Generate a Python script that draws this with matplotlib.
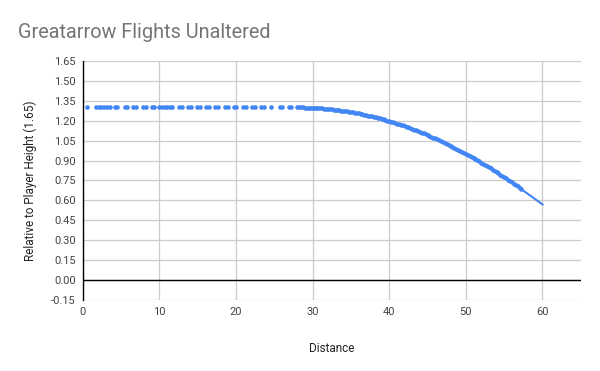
"""
Greatarrow flight path - scatter of height vs distance
"""

import numpy as np
import matplotlib.pyplot as plt

plt.rcParams['font.family'] = ['Roboto', 'DejaVu Sans']

# flat part of the flight (height stays at 1.30)
flat_x = [0.56, 1.7, 2.1, 2.4, 2.8, 3.1, 3.5, 4.2, 4.5, 5.5, 5.8, 6.6, 7.0,
          7.9, 8.2, 9.0, 9.3, 10.0, 10.4, 10.7, 11.0, 11.4, 11.7, 12.6, 12.9,
          13.7, 14.1, 14.9, 15.3, 16.1, 16.5, 17.2, 17.6, 18.5, 18.9, 19.7,
          20.0, 20.9, 21.3, 22.1, 22.5, 23.3, 23.6, 24.5, 25.7, 26.0, 26.9,
          27.2]
flat_y = [1.30] * len(flat_x)

# falling part, read at half steps
drop_x = [28.0, 28.5, 29.0, 29.5, 30.0, 30.5, 31.0, 31.5, 32.0, 32.5, 33.0,
          33.5, 34.0, 34.5, 35.0, 35.5, 36.0, 36.5, 37.0, 37.5, 38.0, 38.5,
          39.0, 39.5, 40.0, 40.5, 41.0, 41.5, 42.0, 42.5, 43.0, 43.5, 44.0,
          44.5, 45.0, 45.5, 46.0, 46.5, 47.0, 47.5, 48.0, 48.5, 49.0, 49.5,
          50.0, 50.5, 51.0, 51.5, 52.0, 52.5, 53.0, 53.5, 54.0, 54.5, 55.0,
          55.5, 56.0, 56.5, 57.0, 57.2]
drop_y = [1.300, 1.300, 1.299, 1.298, 1.297, 1.296, 1.294, 1.291, 1.288,
          1.285, 1.282, 1.278, 1.274, 1.270, 1.265, 1.260, 1.254, 1.248,
          1.242, 1.235, 1.228, 1.221, 1.213, 1.205, 1.196, 1.188, 1.178,
          1.169, 1.159, 1.149, 1.138, 1.127, 1.116, 1.104, 1.092, 1.080,
          1.067, 1.054, 1.040, 1.026, 1.012, 0.997, 0.983, 0.967, 0.952,
          0.936, 0.919, 0.902, 0.885, 0.868, 0.850, 0.832, 0.813, 0.794,
          0.775, 0.756, 0.736, 0.715, 0.695, 0.686]

# falling part, points in between
mid_x = [28.25, 28.75, 29.25, 29.75, 30.25, 30.75, 31.25, 31.75, 32.25,
         32.75, 33.25, 33.75, 34.25, 34.75, 35.25, 35.75, 36.25, 36.75,
         37.25, 37.75, 38.25, 38.75, 39.25, 39.75, 40.25, 40.75, 41.25,
         41.75, 42.25, 42.75, 43.25, 43.75, 44.25, 44.75, 45.25, 45.75,
         46.25, 46.75, 47.25, 47.75, 48.25, 48.75, 49.25, 49.75, 50.25,
         50.75, 51.25, 51.75, 52.25, 52.75, 53.25, 53.75, 54.25, 54.75,
         55.25, 55.75, 56.25, 56.75]
mid_y = [1.300, 1.300, 1.299, 1.298, 1.296, 1.295, 1.292, 1.290, 1.287,
         1.284, 1.280, 1.276, 1.272, 1.267, 1.262, 1.257, 1.251, 1.245,
         1.238, 1.232, 1.224, 1.217, 1.209, 1.201, 1.192, 1.183, 1.174,
         1.164, 1.154, 1.143, 1.133, 1.121, 1.110, 1.098, 1.086, 1.073,
         1.060, 1.047, 1.033, 1.019, 1.005, 0.990, 0.975, 0.959, 0.944,
         0.927, 0.911, 0.894, 0.877, 0.859, 0.841, 0.823, 0.804, 0.785,
         0.765, 0.746, 0.725, 0.705]

# last segment with no markers
tail_x = [57.2, 60.0]
tail_y = [0.686, 0.570]

y_ticks = [-0.15, 0.00, 0.15, 0.30, 0.45, 0.60, 0.75, 0.90, 1.05, 1.20,
           1.35, 1.50, 1.65]
x_ticks = [0, 10, 20, 30, 40, 50, 60]

BLUE = '#4285f4'
GRID = '#cccccc'
TEXT = '#444444'

fig = plt.figure(figsize=(6, 3.71), dpi=100)
ax = fig.add_axes([0.138, 0.191, 0.830, 0.645])

ax.plot(tail_x, tail_y, color=BLUE, lw=1.5, zorder=3)
ax.plot(flat_x + drop_x + mid_x, flat_y + drop_y + mid_y, 'o', color=BLUE,
        ms=3.3, mec='none', zorder=4)

ax.set_xlim(0, 65)
ax.set_ylim(-0.15, 1.65)
ax.set_xticks(x_ticks)
ax.set_yticks(y_ticks)
ax.set_yticklabels([f'{v:.2f}' for v in y_ticks])
ax.tick_params(length=0, labelsize=8, colors=TEXT, pad=5)
ax.grid(True, color=GRID, lw=0.9)
ax.set_axisbelow(True)
ax.axhline(0, color='black', lw=1, zorder=2)

for s in ['top', 'right', 'bottom']:
    ax.spines[s].set_visible(False)
ax.spines['left'].set_color('black')
ax.spines['left'].set_linewidth(1)

ax.set_xlabel('Distance', fontsize=8.5, color='#222222', labelpad=18)
ax.set_ylabel('Relative to Player Height (1.65)', fontsize=8.5,
              color='#222222', labelpad=10)

fig.text(0.03, 0.912, 'Greatarrow Flights Unaltered', fontsize=14.3,
         color='#757575', va='center', ha='left')

plt.savefig('out.png', dpi=100)
